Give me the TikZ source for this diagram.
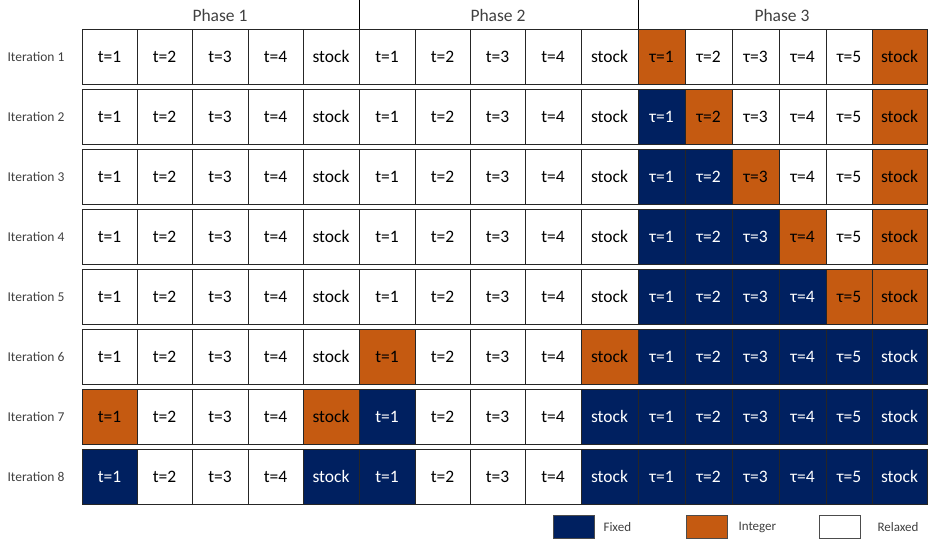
\documentclass[tikz,border=0pt]{standalone}
\usepackage{fontspec}
\setmainfont{Carlito}
\definecolor{navy}{HTML}{002060}
\definecolor{rust}{HTML}{C55A11}
\definecolor{txtgray}{HTML}{404040}
\newcommand\celllab[1]{\ifcase#1\or t=1\or t=2\or t=3\or t=4\or stock\or t=1\or t=2\or t=3\or t=4\or stock\or τ=1\or τ=2\or τ=3\or τ=4\or τ=5\or stock\fi}
\tikzset{
  cellbase/.style={draw=black!85, line width=0.7pt, inner sep=0pt, outer sep=0pt, minimum height=55pt, font=\fontsize{17.5}{17.5}\selectfont},
  sw/.style={cellbase, fill=white, text=black},
  sf/.style={cellbase, fill=navy, text=white},
  si/.style={cellbase, fill=rust, text=black},
  itlab/.style={font=\fontsize{13.5}{13.5}\selectfont, text=txtgray},
  phlab/.style={font=\fontsize{17.5}{17.5}\selectfont, text=txtgray},
  leglab/.style={font=\fontsize{13}{13}\selectfont, text=txtgray, anchor=west},
  legbox/.style={draw=black!70, line width=0.6pt, minimum width=41pt, minimum height=23pt, inner sep=0pt},
  sepline/.style={draw=black, line width=0.7pt}
}
\begin{document}
\begin{tikzpicture}[x=1pt,y=-1pt]
\useasboundingbox (0,0) rectangle (928,539);
\def\xb{{82,137,192,248,303,359,415,470,525,581,638,685,732,779,826,872,927}}
\foreach \r/\st in {
 1/{w,w,w,w,w,w,w,w,w,w,i,w,w,w,w,i},
 2/{w,w,w,w,w,w,w,w,w,w,f,i,w,w,w,i},
 3/{w,w,w,w,w,w,w,w,w,w,f,f,i,w,w,i},
 4/{w,w,w,w,w,w,w,w,w,w,f,f,f,i,w,i},
 5/{w,w,w,w,w,w,w,w,w,w,f,f,f,f,i,i},
 6/{w,w,w,w,w,i,w,w,w,i,f,f,f,f,f,f},
 7/{i,w,w,w,i,f,w,w,w,f,f,f,f,f,f,f},
 8/{f,w,w,w,f,f,w,w,w,f,f,f,f,f,f,f}} {
  \pgfmathsetmacro\yc{29+60*(\r-1)+27.5}
  \node[itlab] (it-\r) at (36,\yc) {Iteration \r};
  \foreach \s [count=\c] in \st {
    \pgfmathsetmacro\xl{\xb[\c-1]}
    \pgfmathsetmacro\xr{\xb[\c]}
    \pgfmathsetmacro\cwid{\xr-\xl}
    \pgfmathsetmacro\xc{(\xl+\xr)/2}
    \node[s\s, minimum width=\cwid pt] (c-\r-\c) at (\xc,\yc) {\celllab{\c}};
  }
}
\node[phlab] (ph1) at (220,15) {Phase 1};
\node[phlab] (ph2) at (498,15) {Phase 2};
\node[phlab] (ph3) at (782,15) {Phase 3};
\coordinate (s1) at (359,0);
\coordinate (s2) at (638,0);
\draw[sepline] (s1) -- (c-1-6.north west);
\draw[sepline] (s2) -- (c-1-11.north west);
\node[legbox, fill=navy] (lf) at (573.5,526.5) {};
\node[leglab] (lft) at (600,527) {Fixed};
\node[legbox, fill=rust] (li) at (706.5,526.5) {};
\node[leglab] (lit) at (735,527) {Integer};
\node[legbox, fill=white] (lr) at (839.5,526.5) {};
\node[leglab] (lrt) at (874,527) {Relaxed};
\end{tikzpicture}
\end{document}
